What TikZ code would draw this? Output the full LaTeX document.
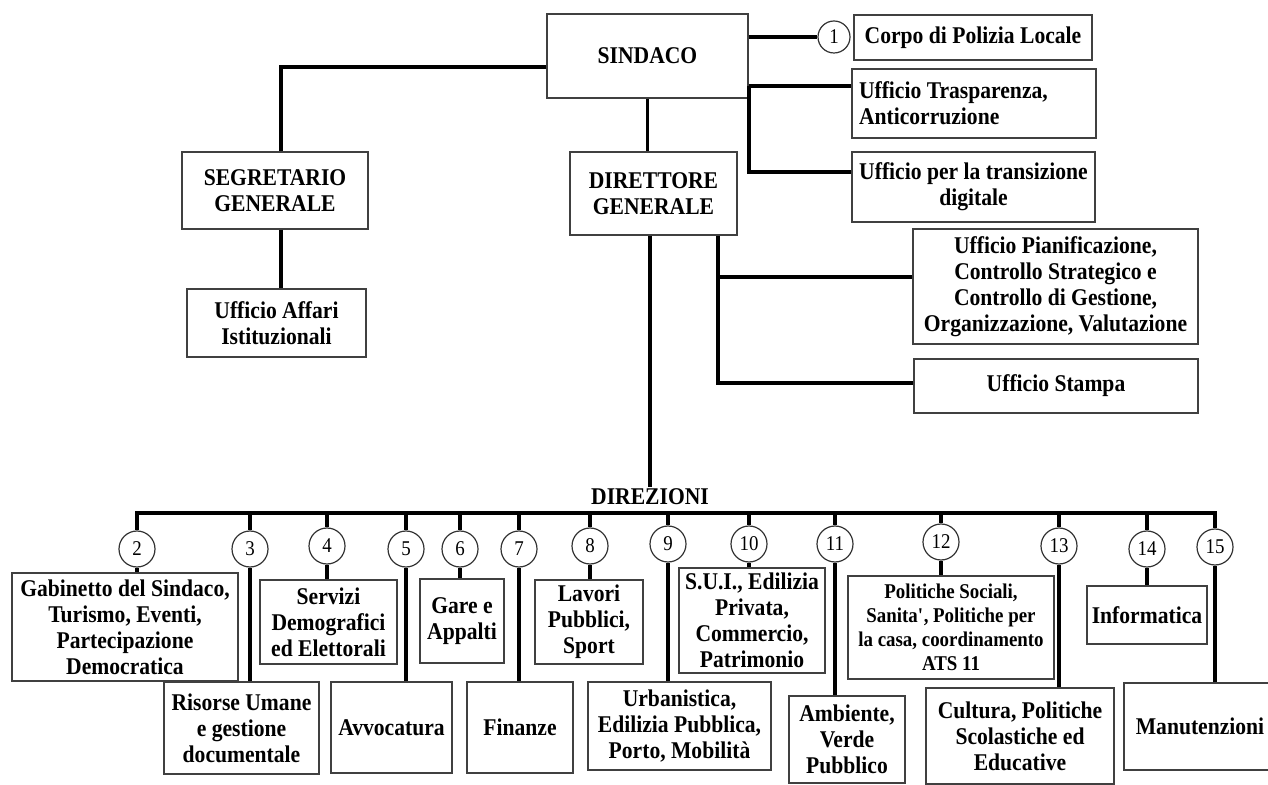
\documentclass[tikz,border=0pt]{standalone}
\usepackage{fontspec}
\setmainfont[FakeStretch=0.9]{Liberation Serif}
\begin{document}
\begin{tikzpicture}[x=0.5pt,y=-0.5pt,
  box/.style 2 args={draw=black!75,line width=0.6pt,inner sep=0pt,align=center,
    minimum width=#1*0.5pt,minimum height=#2*0.5pt,font=\bfseries\fontsize{12}{13}\selectfont},
  num/.style={draw=black!80,line width=0.6pt,circle,fill=white,inner sep=0pt,
    minimum size=18pt,font=\fontsize{10.5}{12}\selectfont},
  conn/.style={line width=1.8pt}]
\useasboundingbox (0,0) rectangle (1268,785);
\clip (0,0) rectangle (1268,785);
% vertice
\node[box={201}{84}] (sindaco) at (647.5,56) {SINDACO};
\node[box={186}{77}] (segret) at (275,190.5) {SEGRETARIO\\GENERALE};
\node[box={179}{68}] (affari) at (276.5,323) {Ufficio Affari\\Istituzionali};
\node[box={167}{83}] (dirgen) at (653.5,193.5) {DIRETTORE\\GENERALE};
\node[num,minimum size=16pt] (n1) at (834,37) {1};
\node[box={238}{45}] (polizia) at (973,37.5) {Corpo di Polizia Locale};
\node[box={244}{69},line width=1.2pt,text width=115pt,align=flush left] (traspar) at (974,103.5) {Ufficio Trasparenza,\\Anticorruzione};
\node[box={243}{70}] (transiz) at (973.5,187) {Ufficio per la transizione\\digitale};
\node[box={285}{115}] (pianif) at (1055.5,286.5) {Ufficio Pianificazione,\\Controllo Strategico e\\Controllo di Gestione,\\Organizzazione, Valutazione};
\node[box={284}{54}] (stampa) at (1056,386) {Ufficio Stampa};
\draw[conn] ([yshift=-5.5pt]sindaco.west) -| ([xshift=3pt]segret.north);
\draw[conn] ([xshift=3pt]segret.south) -- ([xshift=3pt]segret.south |- affari.north);
\draw[conn] (sindaco.south) -- (sindaco.south |- dirgen.north);
\draw[conn] (sindaco.east |- n1) -- (n1);
\coordinate (jt) at (749,86);
\coordinate (jd) at (749,172);
\draw[conn] (sindaco.east |- jt) -- (traspar.west |- jt);
\draw[conn] (jt) -- (jd) -- (transiz.west |- jd);
\coordinate (jp) at (718,277);
\coordinate (js) at (718,383);
\draw[conn] (dirgen.south -| jp) -- (js) -- (stampa.west |- js);
\draw[conn] (jp) -- (pianif.west |- jp);
% direzioni
\node[font=\bfseries\fontsize{12}{13}\selectfont,inner sep=1pt] (direz) at (650,497) {DIREZIONI};
\draw[conn] (dirgen.south -| direz) -- (direz.north);
\coordinate (bus) at (0,513);
\node[num] (n2) at (137,549) {2};
\node[num] (n3) at (250,549) {3};
\node[num] (n4) at (327,546) {4};
\node[num] (n5) at (406,549) {5};
\node[num] (n6) at (460,549) {6};
\node[num] (n7) at (519,549) {7};
\node[num] (n8) at (590,546) {8};
\node[num] (n9) at (668,544) {9};
\node[num] (n10) at (749,544) {10};
\node[num] (n11) at (835,544) {11};
\node[num] (n12) at (941,542) {12};
\node[num] (n13) at (1059,546) {13};
\node[num] (n14) at (1147,549) {14};
\node[num] (n15) at (1215,547) {15};
\node[box={226}{108}] (gabin) at (125,627) {Gabinetto del Sindaco,\\Turismo, Eventi,\\Partecipazione\\Democratica};
\node[box={155}{92}] (risorse) at (241.5,728) {Risorse Umane\\e gestione\\documentale};
\node[box={137}{84}] (demogr) at (328.5,622) {Servizi\\Demografici\\ed Elettorali};
\node[box={121}{91}] (avvoc) at (391.5,727.5) {Avvocatura};
\node[box={84}{84}] (gare) at (462,621) {Gare e\\Appalti};
\node[box={106}{91}] (finanze) at (520,727.5) {Finanze};
\node[box={108}{84}] (lavori) at (589,622) {Lavori\\Pubblici,\\Sport};
\node[box={183}{88}] (urban) at (679.5,726) {Urbanistica,\\Edilizia Pubblica,\\Porto, Mobilità};
\node[box={146}{105}] (sui) at (752,620.5) {S.U.I., Edilizia\\Privata,\\Commercio,\\Patrimonio};
\node[box={116}{87}] (ambiente) at (847,739.5) {Ambiente,\\Verde\\Pubblico};
\node[box={206}{103},font=\bfseries\fontsize{10.5}{12}\selectfont] (sociali) at (951,627.5) {Politiche Sociali,\\Sanita\textquotesingle, Politiche per\\la casa, coordinamento\\ATS 11};
\node[box={188}{96}] (cultura) at (1020,736) {Cultura, Politiche\\Scolastiche ed\\Educative};
\node[box={120}{58}] (informat) at (1147,615) {Informatica};
\node[box={152}{87}] (manut) at (1200,726.5) {Manutenzioni};
\draw[conn,line cap=rect] (n2 |- bus) -- (n15 |- bus);
\foreach \i/\b in {2/gabin,3/risorse,4/demogr,5/avvoc,6/gare,7/finanze,8/lavori,9/urban,
  10/sui,11/ambiente,12/sociali,13/cultura,14/informat,15/manut}
  \draw[conn] (n\i |- bus) -- (n\i.north) (n\i.south) -- (n\i |- \b.north);
\end{tikzpicture}
\end{document}
